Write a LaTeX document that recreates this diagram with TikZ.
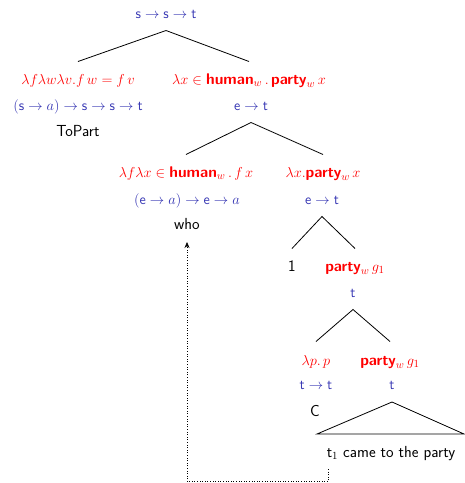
\documentclass[tikz,border=0pt]{standalone}
\usepackage{amsmath}
\usetikzlibrary{arrows.meta}
\definecolor{tblue}{rgb}{0.2,0.2,0.7}
\definecolor{tred}{rgb}{1,0,0}
\begin{document}
\begin{tikzpicture}[x=1pt,y=-1pt,
  lab/.style={anchor=base, inner sep=0pt, font=\fontsize{16}{19}\selectfont\sffamily},
  mlab/.style={anchor=base, inner sep=0pt, font=\fontsize{15.5}{18}\selectfont\sffamily},
  sem/.style={mlab, text=tred},
  typ/.style={mlab, text=tblue},
  wrd/.style={lab, text=black},
  br/.style={line width=0.8pt}]
\useasboundingbox (0,0) rectangle (465,483);
\node[typ] (r-t) at (166,18) {$\mathsf{s}\to\mathsf{s}\to\mathsf{t}$};
\node[sem] (a-m) at (78,84) {$\lambda f\lambda w\lambda v.f\,w=f\,v$};
\node[typ] (a-t) at (78,110) {$(\mathsf{s}\to a)\to\mathsf{s}\to\mathsf{s}\to\mathsf{t}$};
\node[wrd] (a-w) at (78,136) {ToPart};
\node[sem] (b-m) at (249,84) {$\lambda x\in\textbf{human}_w\,.\,\textbf{party}_w\,x$};
\node[typ] (b-t) at (251,110) {$\mathsf{e}\to\mathsf{t}$};
\node[sem] (c-m) at (186,177) {$\lambda f\lambda x\in\textbf{human}_w\,.\,f\,x$};
\node[typ] (c-t) at (187,204) {$(\mathsf{e}\to a)\to\mathsf{e}\to a$};
\node[wrd] (c-w) at (187,229) {who};
\node[sem] (d-m) at (323,177) {$\lambda x.\textbf{party}_w\,x$};
\node[typ] (d-t) at (322,204) {$\mathsf{e}\to\mathsf{t}$};
\node[wrd] (e-w) at (292,271) {1};
\node[sem] (f-m) at (355,271) {$\textbf{party}_w\,g_1$};
\node[typ] (f-t) at (353,297) {$\mathsf{t}$};
\node[sem] (g-m) at (316,365) {$\lambda p.\,p$};
\node[typ] (g-t) at (316,389) {$\mathsf{t}\to\mathsf{t}$};
\node[wrd] (g-w) at (315,416) {C};
\node[sem] (h-m) at (390,365) {$\textbf{party}_w\,g_1$};
\node[typ] (h-t) at (392,389) {$\mathsf{t}$};
\node[wrd] (h-w) at (391,457) {t$_1$ came to the party};
% branches
\draw[br] ([yshift=22.5pt]a-m.base) -- ([yshift=-12.5pt]r-t.base) -- ([yshift=22.5pt]b-m.base);
\draw[br] ([yshift=22.5pt]c-m.base) -- ([yshift=-12.5pt]b-t.base) -- ([yshift=22.5pt]d-m.base);
\draw[br] ([yshift=22.5pt]e-w.base) -- ([yshift=-12.5pt]d-t.base) -- ([yshift=22.5pt]f-m.base);
\draw[br] ([yshift=23.5pt]g-m.base) -- ([yshift=-12.5pt]f-t.base) -- ([yshift=23.5pt]h-m.base);
% triangle
\coordinate (tl) at (317,434);
\coordinate (tr) at (464,434);
\draw[br] ([yshift=-13pt]h-t.base) -- (tl) -- (tr) -- cycle;
% movement arrow
\coordinate (d0) at (328,469);
\coordinate (d1) at (328,481.5);
\coordinate (d2) at (187,481.5);
\draw[dotted, line width=0.6pt, -{Stealth[length=6pt,width=5pt]}] (d0) -- (d1) -- (d2) -- ([yshift=-13pt]c-w.base);
\end{tikzpicture}
\end{document}
